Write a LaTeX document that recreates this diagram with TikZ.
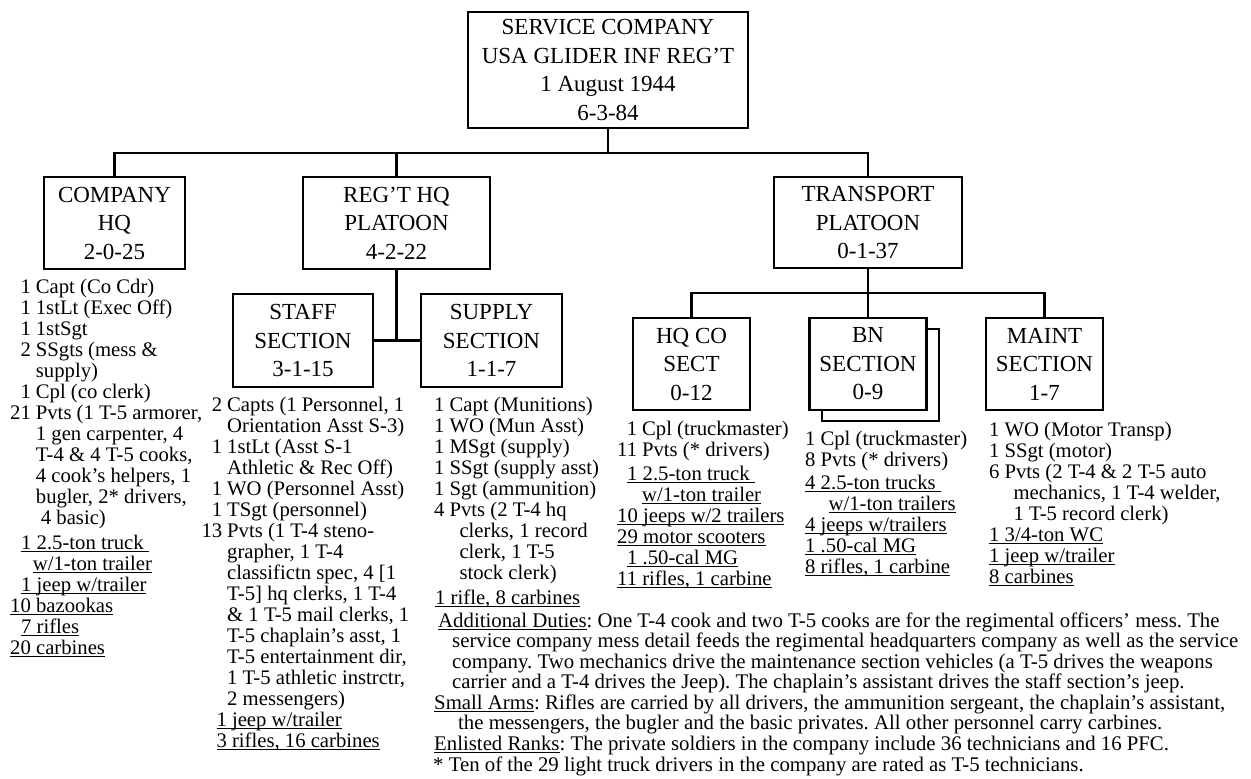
\documentclass[tikz,border=0pt]{standalone}
\usepackage{fontspec}
\setmainfont{Liberation Serif}
\frenchspacing
\newsavebox\ulbx
\newcommand\ulx[1]{\sbox\ulbx{#1}\rlap{\rule[-3pt]{\wd\ulbx}{1.1pt}}\usebox\ulbx}
\newcommand\lstfont{\fontsize{20.7}{21}\selectfont}
\newcommand\notefont{\fontsize{20.8}{20.1}\selectfont}
\tikzset{
  box/.style={draw, line width=2.8pt, fill=white, align=center, inner sep=0pt,
    font=\fontsize{23}{28.5}\selectfont},
  conn/.style={line width=2.8pt},
  lst/.style={anchor=base west, inner sep=0pt, font=\lstfont},
}
\begin{document}
\begin{tikzpicture}[x=1pt,y=-1pt]
\useasboundingbox[fill=white] (0,0) rectangle (1251,779);

% boxes
\node[box, minimum width=280, minimum height=116] (top) at (608,70) {SERVICE COMPANY\\USA GLIDER INF REG'T\\1 August 1944\\6-3-84};
\node[box, minimum width=141, minimum height=92] (chq) at (114.5,223) {COMPANY\\HQ\\2-0-25};
\node[box, minimum width=187, minimum height=92] (rhq) at (396.5,223) {REG'T HQ\\PLATOON\\4-2-22};
\node[box, minimum width=188, minimum height=91] (tp) at (868,222.5) {TRANSPORT\\PLATOON\\0-1-37};
\node[box, minimum width=140, minimum height=93] (staff) at (303,340.5) {STAFF\\SECTION\\3-1-15};
\node[box, minimum width=141, minimum height=93] (supply) at (491.5,340.5) {SUPPLY\\SECTION\\1-1-7};
\node[box, minimum width=117, minimum height=92] (hqco) at (691.5,364) {HQ CO\\SECT\\0-12};
\node[box, minimum width=117, minimum height=92] (bnsh) at (880.5,375) {};
\node[box, minimum width=117, minimum height=92] (bn) at (868,364) {BN\\SECTION\\0-9};
\node[box, minimum width=117, minimum height=92] (maint) at (1044.5,364) {MAINT\\SECTION\\1-7};

% connectors
\coordinate (bar1) at (0,153);
\coordinate (bar2) at (0,293);
\draw[conn] (top.south) -- (top.south |- bar1);
\draw[conn] (chq.north) -- (chq.north |- bar1) -- (tp.north |- bar1) -- (tp.north);
\draw[conn] (rhq.north) -- (rhq.north |- bar1);
\draw[conn] (rhq.south) -- (rhq.south |- staff.east);
\draw[conn] (staff.east) -- (supply.west);
\draw[conn] (hqco.north) -- (hqco.north |- bar2) -- (maint.north |- bar2) -- (maint.north);
\draw[conn] (tp.south) -- (bn.north);

% lists
\node[lst] (chql) at (10,293) {\begin{tabular}[t]{@{}r@{\hspace{5pt}}l@{}}
1 & Capt (Co Cdr)\\
1 & 1stLt (Exec Off)\\
1 & 1stSgt\\
2 & SSgts (mess \&\\
 & supply)\\
1 & Cpl (co clerk)\\
21 & Pvts (1 T-5 armorer,\\
 & 1 gen carpenter, 4\\
 & T-4 \& 4 T-5 cooks,\\
 & 4 cook's helpers, 1\\
 & bugler, 2* drivers,\\
 & \hspace{5pt}4 basic)\\[4pt]
\multicolumn{2}{@{\hspace{11pt}}l@{}}{\ulx{1 2.5-ton truck\ }}\\
 & \hspace{-3pt}\ulx{w/1-ton trailer}\\
\multicolumn{2}{@{\hspace{11pt}}l@{}}{\ulx{1 jeep w/trailer}}\\
\multicolumn{2}{@{}l@{}}{\ulx{10 bazookas}}\\
\multicolumn{2}{@{\hspace{11pt}}l@{}}{\ulx{7 rifles}}\\
\multicolumn{2}{@{}l@{}}{\ulx{20 carbines}}
\end{tabular}};

\node[lst] (staffl) at (201.3,411) {\begin{tabular}[t]{@{}r@{\hspace{5pt}}l@{}}
2 & Capts (1 Personnel, 1\\
 & Orientation Asst S-3)\\
1 & 1stLt (Asst S-1\\
 & Athletic \& Rec Off)\\
1 & WO (Personnel Asst)\\
1 & TSgt (personnel)\\
13 & Pvts (1 T-4 steno-\\
 & grapher, 1 T-4\\
 & classifictn spec, 4 [1\\
 & T-5] hq clerks, 1 T-4\\
 & \& 1 T-5 mail clerks, 1\\
 & T-5 chaplain's asst, 1\\
 & T-5 entertainment dir,\\
 & 1 T-5 athletic instrctr,\\
 & 2 messengers)\\
\multicolumn{2}{@{\hspace{15pt}}l@{}}{\ulx{1 jeep w/trailer}}\\
\multicolumn{2}{@{\hspace{15pt}}l@{}}{\ulx{3 rifles, 16 carbines}}
\end{tabular}};

\node[lst] (supplyl) at (434,411) {\begin{tabular}[t]{@{}r@{\hspace{5pt}}l@{}}
1 & Capt (Munitions)\\
1 & WO (Mun Asst)\\
1 & MSgt (supply)\\
1 & SSgt (supply asst)\\
1 & Sgt (ammunition)\\
4 & Pvts (2 T-4 hq\\
 & \hspace{10pt}clerks, 1 record\\
 & \hspace{10pt}clerk, 1 T-5\\
 & \hspace{10pt}stock clerk)\\[4pt]
\multicolumn{2}{@{\hspace{1pt}}l@{}}{\ulx{1 rifle, 8 carbines}}
\end{tabular}};

\node[lst] (hqcol) at (617,435) {\begin{tabular}[t]{@{}r@{\hspace{5pt}}l@{}}
1 & Cpl (truckmaster)\\
11 & Pvts (* drivers)\\[3pt]
\multicolumn{2}{@{\hspace{10pt}}l@{}}{\ulx{1 2.5-ton truck\ }}\\
 & \ulx{w/1-ton trailer}\\
\multicolumn{2}{@{}l@{}}{\ulx{10 jeeps w/2 trailers}}\\
\multicolumn{2}{@{}l@{}}{\ulx{29 motor scooters}}\\
\multicolumn{2}{@{\hspace{10pt}}l@{}}{\ulx{1 .50-cal MG}}\\
\multicolumn{2}{@{}l@{}}{\ulx{11 rifles, 1 carbine}}
\end{tabular}};

\node[lst] (bnl) at (805,445) {\begin{tabular}[t]{@{}r@{\hspace{5pt}}l@{}}
1 & Cpl (truckmaster)\\
8 & Pvts (* drivers)\\[2pt]
\multicolumn{2}{@{}l@{}}{\ulx{4 2.5-ton trucks\ }}\\
 & \hspace{8pt}\ulx{w/1-ton trailers}\\
\multicolumn{2}{@{}l@{}}{\ulx{4 jeeps w/trailers}}\\
\multicolumn{2}{@{}l@{}}{\ulx{1 .50-cal MG}}\\
\multicolumn{2}{@{}l@{}}{\ulx{8 rifles, 1 carbine}}
\end{tabular}};

\node[lst] (maintl) at (989,436) {\begin{tabular}[t]{@{}r@{\hspace{5pt}}l@{}}
1 & WO (Motor Transp)\\
1 & SSgt (motor)\\
6 & Pvts (2 T-4 \& 2 T-5 auto\\
 & \hspace{9pt}mechanics, 1 T-4 welder,\\
 & \hspace{9pt}1 T-5 record clerk)\\
\multicolumn{2}{@{}l@{}}{\ulx{1 3/4-ton WC}}\\
\multicolumn{2}{@{}l@{}}{\ulx{1 jeep w/trailer}}\\
\multicolumn{2}{@{}l@{}}{\ulx{8 carbines}}
\end{tabular}};

% notes
\node[anchor=base west, inner sep=0pt, font=\notefont] (notes) at (434,627) {\begin{tabular}[t]{@{}l@{}}
\hspace{4pt}\ulx{Additional Duties}: One T-4 cook and two T-5 cooks are for the regimental officers' mess. The\\
\hspace{18pt}service company mess detail feeds the regimental headquarters company as well as the service\\
\hspace{18pt}company. Two mechanics drive the maintenance section vehicles (a T-5 drives the weapons\\
\hspace{18pt}carrier and a T-4 drives the Jeep). The chaplain's assistant drives the staff section's jeep.\\
\ulx{Small Arms}: Rifles are carried by all drivers, the ammunition sergeant, the chaplain's assistant,\\
\hspace{24pt}the messengers, the bugler and the basic privates. All other personnel carry carbines.\\
\ulx{Enlisted Ranks}: The private soldiers in the company include 36 technicians and 16 PFC.\\
\hspace{-1pt}* Ten of the 29 light truck drivers in the company are rated as T-5 technicians.
\end{tabular}};
\end{tikzpicture}
\end{document}
